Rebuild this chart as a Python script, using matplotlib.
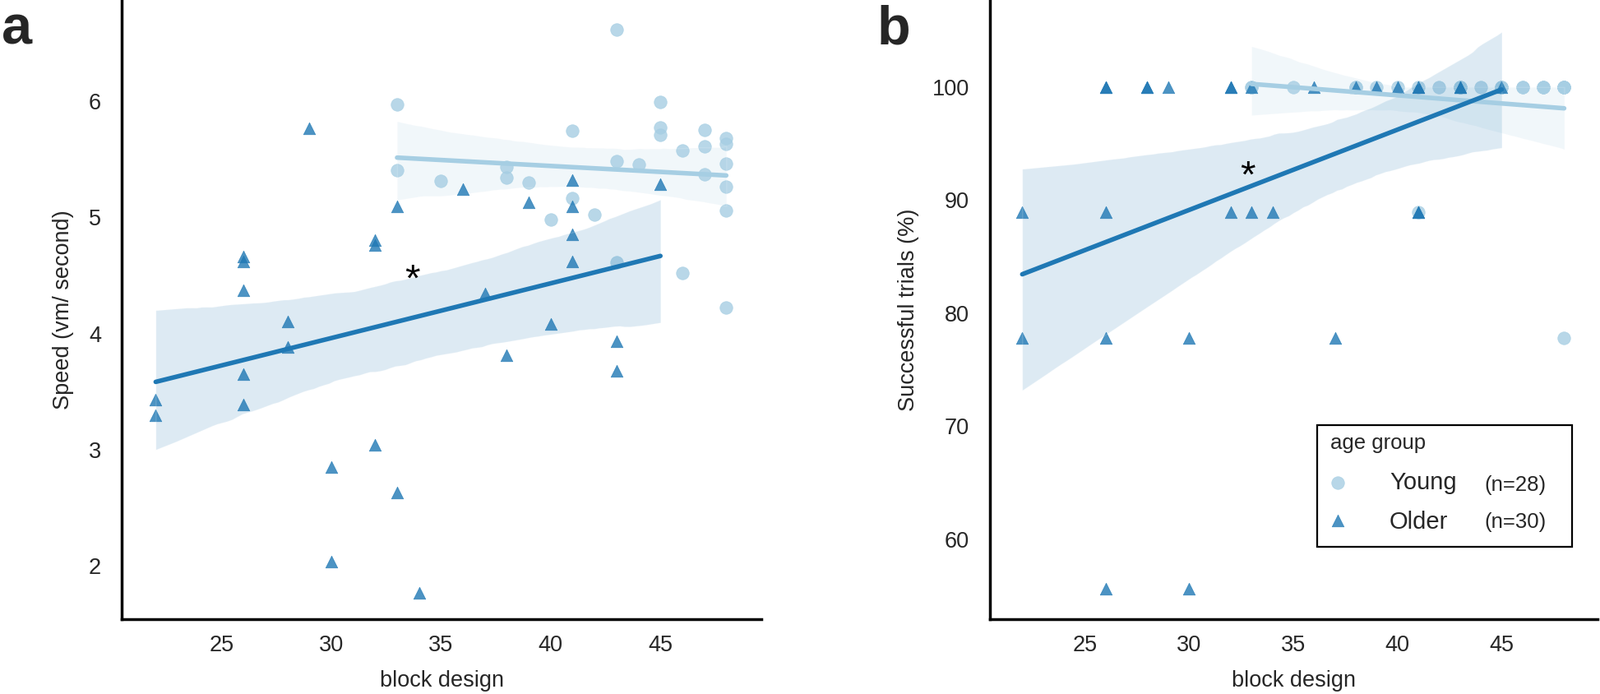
import numpy as np
import matplotlib
matplotlib.use("Agg")
import matplotlib.pyplot as plt
import seaborn as sns
from matplotlib.patches import Rectangle

sns.set_style("white")
plt.rcParams['font.family'] = ['Liberation Sans', 'DejaVu Sans']

young_color = '#a6cee3'
older_color = '#1f78b4'

# Young group (n=28)
young_block = [33, 33, 35, 38, 38, 39, 41, 41, 40, 42, 43, 43, 43, 44,
               45, 45, 45, 46, 46, 47, 47, 47, 48, 48, 48, 48, 48, 48]
young_speed = [5.97, 5.40, 5.31, 5.43, 5.34, 5.30, 5.74, 5.16, 4.98, 5.02, 6.61, 5.48, 4.61, 5.45,
               5.99, 5.77, 5.71, 5.57, 4.52, 5.75, 5.61, 5.37, 5.68, 5.63, 5.46, 5.26, 5.06, 4.22]
young_success = [100, 100, 100, 100, 100, 100, 100, 88.9, 100, 100, 100, 100, 100, 100,
                 100, 100, 100, 100, 100, 100, 100, 100, 100, 100, 100, 100, 100, 77.8]

# Older group (n=30)
older_block = [22, 22, 26, 26, 26, 26, 26, 28, 28, 29, 30, 30, 32, 32, 32,
               33, 33, 34, 36, 37, 38, 39, 40, 41, 41, 41, 41, 43, 43, 45]
older_speed = [3.43, 3.30, 4.66, 4.62, 4.37, 3.65, 3.39, 4.10, 3.88, 5.76, 2.85, 2.04, 4.80, 4.76, 3.04,
               5.09, 2.63, 1.77, 5.24, 4.34, 3.81, 5.13, 4.08, 5.32, 5.09, 4.85, 4.62, 3.93, 3.68, 5.28]
older_success = [88.9, 77.8, 100, 88.9, 77.8, 55.6, 100, 100, 100, 100, 77.8, 55.6, 100, 88.9, 100,
                 100, 88.9, 88.9, 100, 77.8, 100, 100, 100, 100, 88.9, 88.9, 100, 100, 100, 100]

yticks_a = [2, 3, 4, 5, 6]
yticks_b = [60, 70, 80, 90, 100]
xticks = [25, 30, 35, 40, 45]

fig = plt.figure(figsize=(19.46, 8.44), dpi=100)
ax_a = fig.add_axes([148 / 1946, 1 - 753 / 844, 778 / 1946, 753 / 844])
ax_b = fig.add_axes([1204 / 1946, 1 - 753 / 844, 739 / 1946, 753 / 844])


def draw_panel(ax, young_y, older_y):
    sns.regplot(x=np.array(young_block, float), y=np.array(young_y, float), ax=ax,
                color=young_color, marker='o', seed=3,
                scatter_kws={'s': 125, 'alpha': 0.8, 'linewidths': 0.5},
                line_kws={'lw': 4})
    sns.regplot(x=np.array(older_block, float), y=np.array(older_y, float), ax=ax,
                color=older_color, marker='^', seed=3,
                scatter_kws={'s': 110, 'alpha': 0.8, 'linewidths': 0.5},
                line_kws={'lw': 4})
    ax.set_xlim(20.45, 49.6)
    ax.set_xticks(xticks)
    ax.set_xlabel('block design', fontsize=19.5, color='#262626')
    ax.xaxis.set_label_coords(0.5, -0.082)
    ax.xaxis.label.set_va('top')
    ax.tick_params(axis='x', length=0, pad=14, labelsize=19.5, labelcolor='#262626')
    ax.tick_params(axis='y', length=0, pad=18, labelsize=19.5, labelcolor='#262626')
    for side in ['top', 'right']:
        ax.spines[side].set_visible(False)
    for side in ['left', 'bottom']:
        ax.spines[side].set_color('black')
        ax.spines[side].set_linewidth(2.5)


draw_panel(ax_a, young_speed, older_speed)
ax_a.set_ylim(1.544, 6.866)
ax_a.set_yticks(yticks_a)
ax_a.set_ylabel('Speed (vm/ second)', fontsize=19.5, color='#262626')
ax_a.yaxis.set_label_coords(-0.0745, 0.5)
ax_a.text(33.7, 4.45, '*', ha='center', va='center', fontsize=34, color='black')

draw_panel(ax_b, young_success, older_success)
ax_b.set_ylim(52.92, 107.7)
ax_b.set_yticks(yticks_b)
ax_b.set_ylabel('Successful trials (%)', fontsize=19.5, color='#262626')
ax_b.yaxis.set_label_coords(-0.116, 0.5)
ax_b.text(32.8, 92.0, '*', ha='center', va='center', fontsize=34, color='black')

# legend drawn by hand so the (n=..) parts can be smaller
ax_b.add_patch(Rectangle((0.5386, 0.1169), 0.4195, 0.1965, transform=ax_b.transAxes,
                         facecolor='white', edgecolor='black', lw=1.6, zorder=5, clip_on=False))
ax_b.text(0.5602, 0.2753, 'age group', transform=ax_b.transAxes, fontsize=18.5,
          color='#262626', va='baseline', zorder=6)
ax_b.scatter([0.5724], [0.2205], transform=ax_b.transAxes, s=125, marker='o',
             color=young_color, alpha=0.8, linewidths=0.5, zorder=6, clip_on=False)
ax_b.scatter([0.5724], [0.1594], transform=ax_b.transAxes, s=110, marker='^',
             color=older_color, alpha=0.8, linewidths=0.5, zorder=6, clip_on=False)
ax_b.text(0.6576, 0.2098, 'Young', transform=ax_b.transAxes, fontsize=21,
          color='#262626', va='baseline', zorder=6)
ax_b.text(0.6576, 0.1465, 'Older', transform=ax_b.transAxes, fontsize=21,
          color='#262626', va='baseline', zorder=6)
ax_b.text(0.8133, 0.2076, '(n=28)', transform=ax_b.transAxes, fontsize=18.5,
          color='#262626', va='baseline', zorder=6)
ax_b.text(0.8133, 0.148, '(n=30)', transform=ax_b.transAxes, fontsize=18.5,
          color='#262626', va='baseline', zorder=6)

fig.text(2 / 1946, 1 - 53 / 844, 'a', fontsize=48, fontweight='bold', va='baseline')
fig.text(1067 / 1946, 1 - 54 / 844, 'b', fontsize=48, fontweight='bold', va='baseline')

fig.savefig('out.png', dpi=100)
